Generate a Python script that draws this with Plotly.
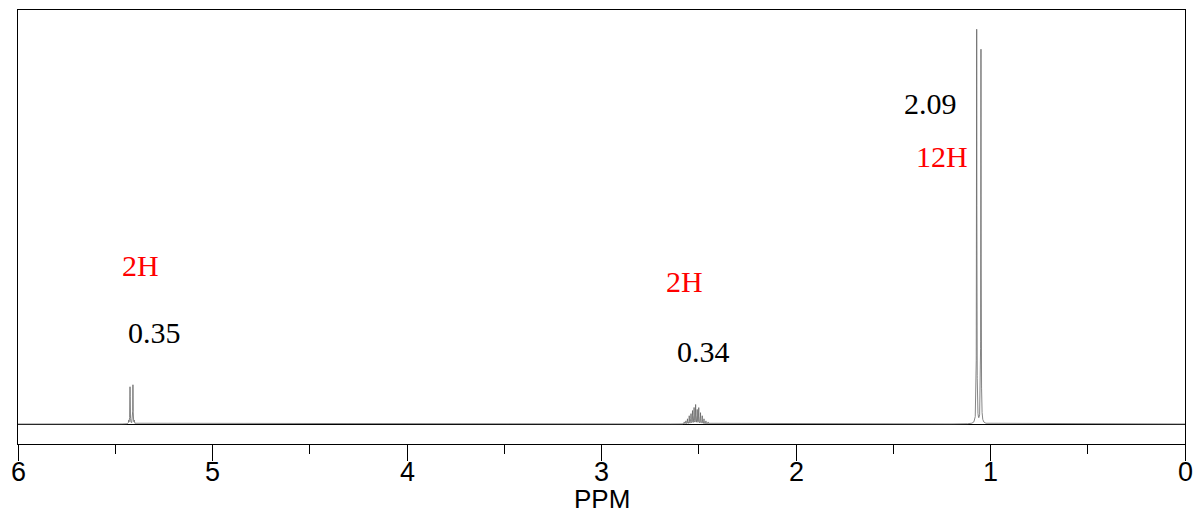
import numpy as np
import plotly.graph_objects as go

# Peak list (ppm, relative intensity)
peak_ppm = [5.431, 5.424, 5.409, 5.402,
            2.575, 2.566, 2.558, 2.549, 2.540, 2.532, 2.524, 2.516, 2.508, 2.500, 2.491, 2.482, 2.473, 2.463, 2.452]
peak_ppm += [1.071, 1.049]
peak_int = [3, 37, 39, 3,
            2, 3, 5, 8, 10, 13, 16, 19, 14, 16, 11, 8, 5, 3, 2,
            394, 374]
peak_width = [0.0010] * 4 + [0.0009] * 15 + [0.0010] * 2

# integrals / labels
int_text = ["0.35", "0.34", "2.09"]
int_ppm = [5.296, 2.478, 1.311]
int_y = [92, 73, 321]
h_text = ["2H", "2H", "12H"]
h_ppm = [5.368, 2.571, 1.249]
h_y = [159, 143, 268]

tick_vals = [0, 1, 2, 3, 4, 5, 6]
tick_text = ["0", "1", "2", "3", "4", "5", "6"]
minor_vals = [0.5, 1.5, 2.5, 3.5, 4.5, 5.5]

ppm = np.linspace(0, 6, 60001)
spec = np.zeros_like(ppm)
for p, a, w in zip(peak_ppm, peak_int, peak_width):
    spec += a * w**2 / ((ppm - p) ** 2 + w**2)

fig = go.Figure()
fig.add_trace(go.Scatter(x=ppm, y=spec, mode="lines",
                         line=dict(color="#666666", width=0.8), hoverinfo="skip"))

for t, x, y in zip(int_text, int_ppm, int_y):
    fig.add_annotation(x=x, y=y, text=t, showarrow=False,
                       font=dict(family="Liberation Serif", size=30, color="black"))
for t, x, y in zip(h_text, h_ppm, h_y):
    fig.add_annotation(x=x, y=y, text=t, showarrow=False,
                       font=dict(family="Liberation Serif", size=30, color="red"))

# tick labels placed right under the tick marks
for v, t in zip(tick_vals, tick_text):
    fig.add_annotation(x=v, xref="x", y=0, yref="paper", yshift=-28, yanchor="middle",
                       text=t, showarrow=False,
                       font=dict(family="Liberation Sans", size=27, color="black"))

fig.add_annotation(x=0.5, xref="paper", y=0, yref="paper", yshift=-55, yanchor="middle",
                   text="PPM", showarrow=False,
                   font=dict(family="Liberation Sans", size=26, color="black"))

fig.update_layout(
    width=1195, height=513,
    margin=dict(l=18, r=10, t=10, b=69),
    plot_bgcolor="white", paper_bgcolor="white",
    showlegend=False,
    xaxis=dict(range=[6, 0], tickmode="array", tickvals=tick_vals, ticktext=tick_text,
               showticklabels=False,
               ticks="outside", ticklen=16, tickwidth=1, tickcolor="black",
               minor=dict(tickvals=minor_vals, ticks="outside", ticklen=9, tickcolor="black"),
               showline=True, linecolor="black", linewidth=1, mirror=True,
               showgrid=False, zeroline=False, automargin=False),
    yaxis=dict(range=[-20, 414], showticklabels=False, ticks="", showgrid=False,
               zeroline=True, zerolinecolor="black", zerolinewidth=1, automargin=False,
               showline=True, linecolor="black", linewidth=1, mirror=True),
)
fig.write_html("out.html")
